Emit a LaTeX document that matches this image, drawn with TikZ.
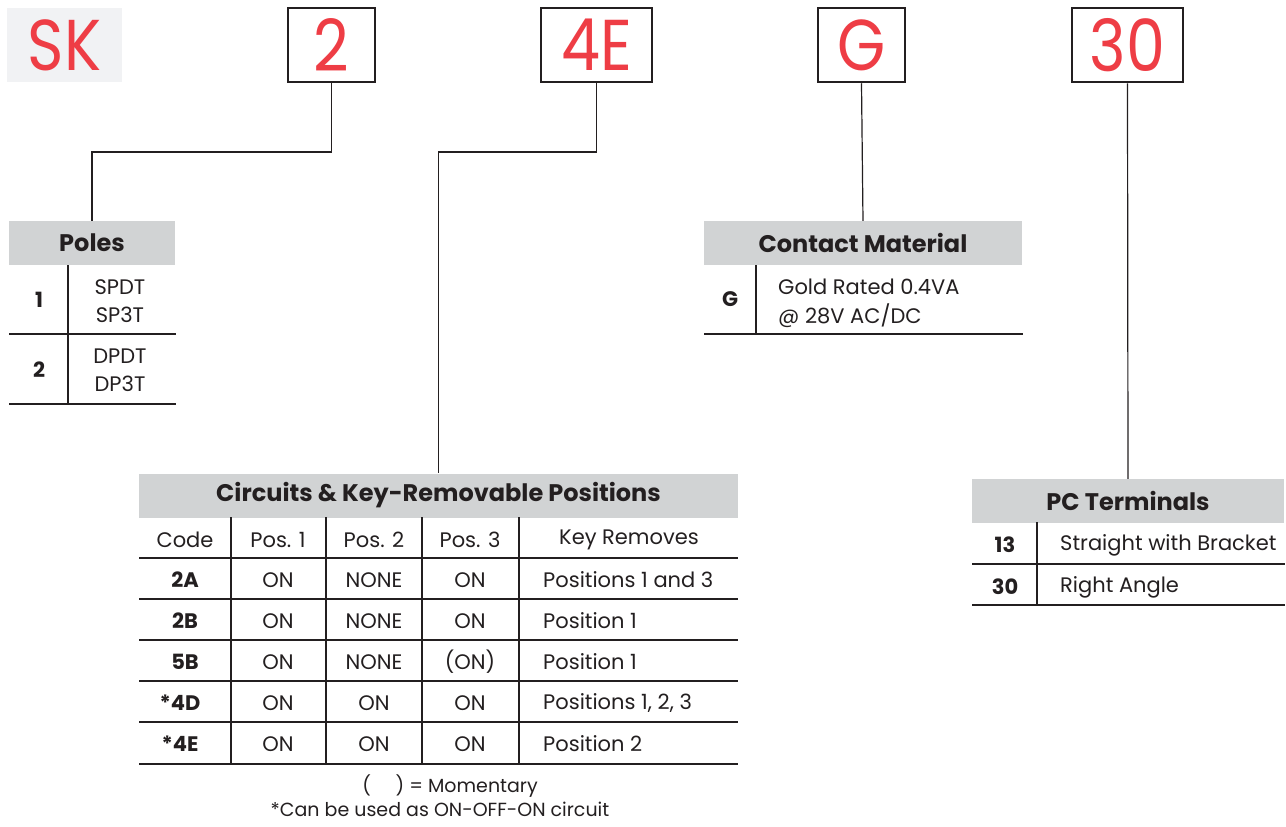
\documentclass[tikz,border=0pt]{standalone}
\usepackage{fontspec}
\setmainfont{Poppins}
\definecolor{skred}{HTML}{EE3D45}
\definecolor{hdrgray}{HTML}{D1D3D4}
\definecolor{skbg}{HTML}{F1F2F4}
\definecolor{ink}{HTML}{231F20}
\newcommand{\bigcode}[1]{\scalebox{0.86}[1]{#1}}
\begin{document}
\begin{tikzpicture}[x=1pt,y=-1pt,
  codebox/.style={draw=ink,line width=2.5pt,minimum width=#1,minimum height=74pt,inner sep=0pt,text=skred,font=\fontsize{72}{72}\selectfont},
  codebox/.default=87pt,
  hdr/.style={fill=hdrgray,minimum width=#1,minimum height=44pt,inner sep=0pt,text=ink,font=\fontsize{24}{24}\selectfont\bfseries},
  rule/.style={draw=ink,line width=1.3pt},
  conn/.style={draw=ink,line width=1.2pt},
  txt/.style={text=ink,inner sep=0pt,font=\fontsize{21}{21}\selectfont},
  btxt/.style={text=ink,inner sep=0pt,font=\fontsize{21}{21}\selectfont\bfseries},
  ftxt/.style={text=ink,inner sep=0pt,font=\fontsize{19}{19}\selectfont},
  ]
\useasboundingbox (0,0) rectangle (1286,827);
% top code boxes
\node[fill=skbg,minimum width=115pt,minimum height=74pt,inner sep=0pt,text=skred,font=\fontsize{72}{72}\selectfont] (sk) at (64.5,45) {\bigcode{SK}};
\node[codebox] (b2) at (331.5,45) {\bigcode{2}};
\node[codebox=111pt] (b4e) at (596.5,45) {\bigcode{4E}};
\node[codebox] (bg) at (861.5,45) {\bigcode{G}};
\node[codebox=111pt] (b30) at (1127.5,45) {\bigcode{30}};
% headers
\node[hdr=166pt] (poles) at (92,243) {Poles};
\node[hdr=318pt] (contact) at (863,243) {Contact Material};
\node[hdr=599pt] (circ) at (438.5,495.5) {Circuits \& Key-Removable Positions};
\node[hdr=312pt] (pc) at (1128,501) {PC Terminals};
% connectors
\coordinate (k2) at (331.5,152);
\coordinate (k4) at (596.5,152);
\draw[conn] (b2.south) -- (k2) -| (poles.north);
\draw[conn] (b4e.south) -- (k4) -| (circ.north);
\draw[conn] (bg.south) -- (contact.north);
\draw[conn] (b30.south) -- (pc.north);
% Poles table
\draw[rule] (68,265) -- (68,404);
\draw[rule] (9,334) -- (176,334);
\draw[rule] (9,404) -- (176,404);
\node[btxt] (p1) at (39,300) {1};
\node[txt] (p1a) at (120,287) {SPDT};
\node[txt] (p1b) at (120,315) {SP3T};
\node[btxt] (p2) at (39,370) {2};
\node[txt] (p2a) at (120,356) {DPDT};
\node[txt] (p2b) at (120,384) {DP3T};
% Contact table
\draw[rule] (756,265) -- (756,334);
\draw[rule] (704,334) -- (1023,334);
\node[btxt] (cg) at (730,299) {G};
\node[txt,anchor=west] (cga) at (778,287) {Gold Rated 0.4VA};
\node[txt,anchor=west] (cgb) at (778,316) {@ 28V AC/DC};
% Circuits table
\foreach \xx in {231,326,422,519} \draw[rule] (\xx,517) -- (\xx,764);
\foreach \yy in {558,599,640,681,722,764} \draw[rule] (139,\yy) -- (738,\yy);
\node[txt] (hc) at (185,540) {Code};
\node[txt] (h1) at (278,540) {Pos. 1};
\node[txt] (h2) at (374,540) {Pos. 2};
\node[txt] (h3) at (470,540) {Pos. 3};
\node[txt] (hk) at (629,540) {Key Removes};
\node[btxt] (r1c) at (185,580) {2A};
\node[txt] (r1a) at (278,580) {ON};
\node[txt] (r1b) at (374,580) {NONE};
\node[txt] (r1d) at (470,580) {ON};
\node[txt,anchor=west] (r1k) at (543,580) {Positions 1 and 3};
\node[btxt] (r2c) at (185,621) {2B};
\node[txt] (r2a) at (278,621) {ON};
\node[txt] (r2b) at (374,621) {NONE};
\node[txt] (r2d) at (470,621) {ON};
\node[txt,anchor=west] (r2k) at (543,621) {Position 1};
\node[btxt] (r3c) at (185,662) {5B};
\node[txt] (r3a) at (278,662) {ON};
\node[txt] (r3b) at (374,662) {NONE};
\node[txt] (r3d) at (470,662) {(ON)};
\node[txt,anchor=west] (r3k) at (543,662) {Position 1};
\node[btxt] (r4c) at (180,703) {*4D};
\node[txt] (r4a) at (278,703) {ON};
\node[txt] (r4b) at (374,703) {ON};
\node[txt] (r4d) at (470,703) {ON};
\node[txt,anchor=west] (r4k) at (543,703) {Positions 1, 2, 3};
\node[btxt] (r5c) at (180,744) {*4E};
\node[txt] (r5a) at (278,744) {ON};
\node[txt] (r5b) at (374,744) {ON};
\node[txt] (r5d) at (470,744) {ON};
\node[txt,anchor=west] (r5k) at (543,744) {Position 2};
\node[ftxt] (fn1) at (450,786) {(\hspace{1.3em}) = Momentary};
\node[ftxt] (fn2) at (440,809) {*Can be used as ON-OFF-ON circuit};
% PC table
\draw[rule] (1037,522) -- (1037,605);
\draw[rule] (972,564) -- (1285,564);
\draw[rule] (972,605) -- (1285,605);
\node[btxt] (t13) at (1005,545) {13};
\node[txt,anchor=west] (t13a) at (1060,545) {Straight with Bracket};
\node[btxt] (t30) at (1005,587) {30};
\node[txt,anchor=west] (t30a) at (1060,587) {Right Angle};
\end{tikzpicture}
\end{document}
